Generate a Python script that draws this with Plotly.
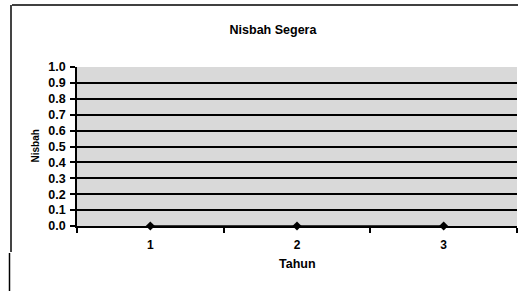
import plotly.graph_objects as go

# Data
tahun = [1, 2, 3]
nisbah = [0.0, 0.0, 0.0]
y_ticks = [round(i * 0.1, 1) for i in range(11)]

W, H = 518, 291
L, R, T, B = 77, 1, 67, 65
pw, ph = W - L - R, H - T - B

def px_x(x):
    return (x - L) / pw

def px_y(y):
    return (H - B - y) / ph

fig = go.Figure()
fig.add_trace(go.Scatter(
    x=tahun, y=nisbah, mode="lines+markers",
    line=dict(color="black", width=1.5),
    marker=dict(symbol="diamond", size=7, color="black"),
    showlegend=False, cliponaxis=False,
))

font_bold = "Liberation Sans"
fig.update_layout(
    width=W, height=H,
    margin=dict(l=L, r=R, t=T, b=B),
    paper_bgcolor="white",
    plot_bgcolor="#d9d9d9",
    font=dict(family=font_bold, size=11, color="black"),
    title=dict(text="<b>Nisbah Segera</b>", x=273 / W, xref="container",
               y=1 - 30 / H, yref="container", xanchor="center", yanchor="middle",
               font=dict(size=12.5, family=font_bold)),
    xaxis=dict(range=[0.5, 3.5], tickvals=tahun,
               ticktext=[f"<b>{t}</b>" for t in tahun],
               showgrid=False, zeroline=False, showline=True,
               linecolor="black", linewidth=1.5, ticks="",
               minor=dict(ticks="outside", tick0=0.5, dtick=1, ticklen=5,
                          tickcolor="black", tickwidth=1.5, showgrid=False),
               tickfont=dict(size=12), ticklabelstandoff=7),
    yaxis=dict(range=[0, 1.0], tickvals=y_ticks,
               ticktext=[f"<b>{v:.1f}</b>" for v in y_ticks],
               showgrid=True, gridcolor="black", gridwidth=1.8,
               zeroline=False, showline=True, linecolor="black", linewidth=1.5,
               ticks="outside", ticklen=5, tickcolor="black", tickwidth=1.5,
               tickfont=dict(size=12.5), ticklabelstandoff=2),
    annotations=[
        dict(text="<b>Nisbah</b>", x=px_x(35), y=0.5, xref="paper", yref="paper",
             textangle=-90, showarrow=False, xanchor="center", yanchor="middle",
             font=dict(size=10)),
        dict(text="<b>Tahun</b>", x=px_x(297), y=px_y(264), xref="paper", yref="paper",
             showarrow=False, xanchor="center", yanchor="middle",
             font=dict(size=12.5)),
    ],
    shapes=[
        dict(type="line", xref="paper", yref="paper",
             x0=px_x(12), x1=px_x(518), y0=px_y(5), y1=px_y(5),
             line=dict(color="black", width=1.5)),
        dict(type="line", xref="paper", yref="paper",
             x0=px_x(11), x1=px_x(11), y0=px_y(5), y1=px_y(252),
             line=dict(color="#444444", width=2)),
        dict(type="line", xref="paper", yref="paper",
             x0=px_x(9.5), x1=px_x(9.5), y0=px_y(253), y1=px_y(291),
             line=dict(color="black", width=1.5)),
    ],
)

fig.write_html("out.html", config={"displayModeBar": False},
               post_script="document.body.style.margin='0';document.body.style.padding='0';")
